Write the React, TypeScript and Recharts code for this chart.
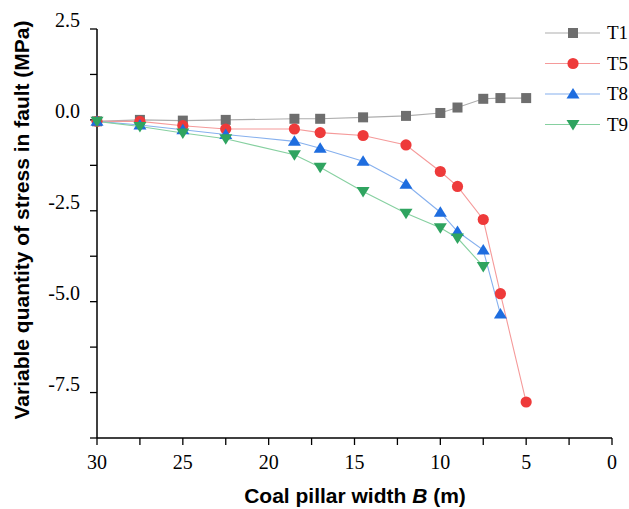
import React from 'react';
import { LineChart, Line, XAxis, YAxis } from 'recharts';

// coal pillar width B (m)
const widths = [30, 27.5, 25, 22.5, 18.5, 17, 14.5, 12, 10, 9, 7.5, 6.5, 5];

// variable quantity of stress in fault (MPa)
const t1 = [-0.04, 0.0, -0.02, 0.0, 0.03, 0.03, 0.07, 0.11, 0.19, 0.34, 0.58, 0.6, 0.6];
const t5 = [-0.04, -0.04, -0.16, -0.25, -0.25, -0.35, -0.43, -0.69, -1.42, -1.83, -2.74, -4.78, -7.76];
const t8 = [-0.04, -0.14, -0.27, -0.4, -0.59, -0.78, -1.14, -1.77, -2.54, -3.07, -3.58, -5.34];
const t9 = [-0.04, -0.18, -0.36, -0.52, -0.96, -1.3, -1.97, -2.57, -2.97, -3.25, -4.03];

const xTicks = [0, 2.5, 5, 7.5, 10, 12.5, 15, 17.5, 20, 22.5, 25, 27.5, 30];
const yTicks = [2.5, 1.25, 0, -1.25, -2.5, -3.75, -5, -6.25, -7.5, -8.75];

const serif = '"Liberation Serif", "Times New Roman", serif';
const sans = '"Liberation Sans", Arial, sans-serif';

type Shape = 'square' | 'circle' | 'up' | 'down';

const series: { name: string; values: number[]; line: string; mark: string; shape: Shape }[] = [
  { name: 'T1', values: t1, line: '#adadad', mark: '#6e6e6e', shape: 'square' },
  { name: 'T5', values: t5, line: '#f59a9a', mark: '#ee3a3a', shape: 'circle' },
  { name: 'T8', values: t8, line: '#86b0ee', mark: '#1e6ddf', shape: 'up' },
  { name: 'T9', values: t9, line: '#86d0a0', mark: '#2fa460', shape: 'down' },
];

function Marker({ cx, cy, shape, fill }: { cx: number; cy: number; shape: Shape; fill: string }) {
  if (shape === 'square') return <rect x={cx - 5} y={cy - 5} width={10} height={10} fill={fill} />;
  if (shape === 'circle') return <circle cx={cx} cy={cy} r={5.6} fill={fill} />;
  if (shape === 'up')
    return <polygon points={`${cx},${cy - 6} ${cx + 6.5},${cy + 4.5} ${cx - 6.5},${cy + 4.5}`} fill={fill} />;
  return <polygon points={`${cx},${cy + 6} ${cx + 6.5},${cy - 4.5} ${cx - 6.5},${cy - 4.5}`} fill={fill} />;
}

const tickStyle = { fontFamily: serif, fontSize: 20, fill: '#000' };

// only the major ticks carry a label
const XTick = ({ x, y, payload }: any) => (
  <g>
    {payload.value % 5 === 0 && (
      <text x={x} y={y + 22} textAnchor="middle" style={tickStyle}>
        {payload.value}
      </text>
    )}
  </g>
);

const YTick = ({ x, y, payload }: any) => (
  <g>
    {payload.value % 2.5 === 0 && (
      <text x={x - 8} y={y - 2} textAnchor="end" style={tickStyle}>
        {payload.value.toFixed(1)}
      </text>
    )}
  </g>
);

// legend in the top right corner
const LegendBox = () => (
  <svg width={90} height={125} style={{ position: 'absolute', left: 540, top: 18 }}>
    {series.map((s, i) => {
      const cy = 15 + i * 30.5;
      return (
        <g key={s.name}>
          <line x1={5} x2={60} y1={cy} y2={cy} stroke={s.line} strokeWidth={1.2} />
          <Marker cx={33} cy={cy} shape={s.shape} fill={s.mark} />
          <text x={67} y={cy + 6} style={{ fontFamily: serif, fontSize: 19 }} fill="#000">
            {s.name}
          </text>
        </g>
      );
    })}
  </svg>
);

const titleStyle = { fontFamily: sans, fontWeight: 'bold' as const, fontSize: 21, fill: '#000' };

export default function App() {
  return (
    <div style={{ position: 'absolute', left: 0, top: 0, width: 629, height: 509, background: '#fff' }}>
      <LineChart width={629} height={509} margin={{ top: 29, right: 17, bottom: 41, left: 47 }}>
        <XAxis
          type="number"
          dataKey="b"
          domain={[0, 30]}
          reversed
          ticks={xTicks}
          interval={0}
          tick={XTick}
          tickSize={7}
          height={30}
          axisLine={{ stroke: '#000', strokeWidth: 1.5 }}
          tickLine={{ stroke: '#000', strokeWidth: 1.3 }}
          allowDuplicatedCategory={false}
          label={{
            content: () => (
              <text x={355} y={503} textAnchor="middle" style={titleStyle}>
                Coal pillar width <tspan fontStyle="italic">B</tspan> (m)
              </text>
            ),
          }}
        />
        <YAxis
          type="number"
          domain={[-8.75, 2.5]}
          ticks={yTicks}
          interval={0}
          tick={YTick}
          tickSize={7}
          width={50}
          axisLine={{ stroke: '#000', strokeWidth: 1.5 }}
          tickLine={{ stroke: '#000', strokeWidth: 1.3 }}
          label={{
            content: () => (
              <text x={29} y={220} transform="rotate(-90 29 220)" textAnchor="middle" style={titleStyle}>
                Variable quantity of stress in fault (MPa)
              </text>
            ),
          }}
        />
        {series.map((s) => (
          <Line
            key={s.name}
            name={s.name}
            data={s.values.map((v, i) => ({ b: widths[i], v }))}
            dataKey="v"
            stroke={s.line}
            strokeWidth={1.1}
            isAnimationActive={false}
            dot={(p: any) => <Marker key={`${s.name}-${p.index}`} cx={p.cx} cy={p.cy} shape={s.shape} fill={s.mark} />}
            activeDot={false}
          />
        ))}
      </LineChart>
      <LegendBox />
    </div>
  );
}
